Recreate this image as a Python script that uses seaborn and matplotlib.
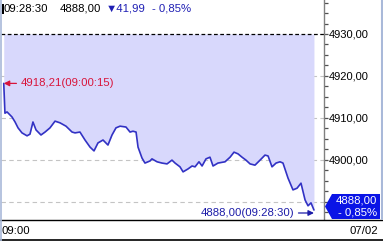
import numpy as np
import pandas as pd
import seaborn as sns
import matplotlib
matplotlib.use("Agg")
import matplotlib.pyplot as plt
from matplotlib.patches import Polygon, Rectangle
from matplotlib.lines import Line2D
from matplotlib.ticker import MultipleLocator, FuncFormatter
import matplotlib.transforms as mtransforms

# ---- data (minutes after 09:00, price) ----
minutes = [0.25, 0.36, 0.55, 1.00, 1.28, 1.55, 1.91, 2.37, 2.64, 2.91,
           3.19, 3.64, 4.01, 4.46, 4.92, 5.37, 5.92, 6.47, 6.74, 7.19,
           7.65, 8.11, 8.47, 8.83, 9.29, 9.74, 10.11, 10.47, 10.84, 11.38,
           11.75, 12.02, 12.30, 12.48, 12.84, 13.11, 13.57, 13.75, 14.21, 14.66,
           15.12, 15.57, 15.85, 16.30, 16.58, 17.03, 17.40, 17.67, 18.03, 18.31,
           18.67, 19.03, 19.31, 19.76, 20.40, 20.86, 21.22, 21.58, 21.95, 22.31,
           22.68, 23.13, 23.59, 24.04, 24.32, 24.68, 25.05, 25.41, 25.68, 26.14,
           26.59, 26.96, 27.32, 27.69, 27.96, 28.23, 28.50]
prices = [4918.21, 4911.1, 4911.4, 4910.2, 4909.0, 4907.6, 4906.4, 4905.7, 4906.1, 4909.0,
          4907.1, 4905.9, 4906.6, 4907.6, 4909.2, 4908.8, 4908.0, 4906.6, 4906.4, 4906.6,
          4904.7, 4903.0, 4902.1, 4904.0, 4904.7, 4903.5, 4905.9, 4907.6, 4908.0, 4907.8,
          4906.6, 4906.8, 4906.6, 4903.0, 4900.4, 4899.2, 4899.7, 4900.2, 4899.5, 4899.2,
          4899.0, 4899.9, 4899.2, 4898.3, 4897.1, 4897.8, 4898.5, 4898.3, 4899.5, 4898.5,
          4900.2, 4900.6, 4898.5, 4899.2, 4899.5, 4900.6, 4901.8, 4901.4, 4900.6, 4899.9,
          4899.0, 4898.7, 4899.9, 4901.1, 4900.9, 4898.3, 4899.2, 4899.5, 4899.2, 4895.6,
          4892.8, 4893.2, 4894.4, 4890.4, 4889.0, 4889.7, 4888.00]
prev_close = 4929.99
y_ticks = [4900, 4910, 4920, 4930]
grid_levels = [4890, 4900, 4910, 4920]
header_time = "09:28:30"
header_price = "4888,00"
header_change = "\u25bc41,99"
header_pct = "- 0,85%"
high_label = "4918,21(09:00:15)"
last_label = "4888,00(09:28:30)"
x_start_label = "09:00"
date_label = "07/02"

df = pd.DataFrame({"t": minutes, "price": prices})

sns.set_theme(style="white")
plt.rcParams['font.family'] = ['Liberation Sans', 'DejaVu Sans']

W, H = 383, 241
fig = plt.figure(figsize=(W / 100, H / 100), dpi=100)
fig.patch.set_facecolor("white")
ax = fig.add_axes([1 / W, 22 / H, 322.5 / W, 219 / H])
ax.set_facecolor("white")

ax.set_xlim(0, 29.37)
ax.set_ylim(4885.85, 4938.11)

ax.fill_between(df["t"], df["price"], prev_close, color="#d8d8fc", lw=0, zorder=1)
for g in grid_levels:
    ax.axhline(g, color="#c4c4c4", linestyle=(0, (4, 3)), linewidth=0.8, zorder=0.5)
ax.axhline(prev_close, color="black", linestyle=(0, (3, 2)), linewidth=0.9, zorder=2)
sns.lineplot(data=df, x="t", y="price", color="#3232c4", linewidth=1.2, ax=ax, zorder=3)

ax.set_xlabel("")
ax.set_ylabel("")
ax.set_xticks([])
for s in ["left", "top", "bottom"]:
    ax.spines[s].set_visible(False)
ax.spines["right"].set_color("#808080")
ax.spines["right"].set_linewidth(1.0)
ax.yaxis.tick_right()
ax.set_yticks(y_ticks)
ax.yaxis.set_minor_locator(MultipleLocator(2.5))
ax.yaxis.set_major_formatter(FuncFormatter(lambda v, _: f"{v:.2f}".replace(".", ",")))
ax.tick_params(axis="y", which="both", direction="out", length=3, width=0.9,
               color="#505050", labelsize=8, pad=1, labelcolor="black")

# high annotation
red = "#d8143a"
ax.annotate(high_label, xy=(df["t"].iloc[0], df["price"].iloc[0]),
            xytext=(12, 0), textcoords="offset points", color=red, fontsize=8.2,
            va="center", ha="left",
            arrowprops=dict(arrowstyle="-|>,head_length=0.4,head_width=0.2",
                            color=red, lw=0.9, shrinkA=0.5, shrinkB=0))

# last annotation
navy = "#1c1ca8"
off = mtransforms.offset_copy(ax.transData, fig=fig, y=-3, units="dots")
ax.annotate(last_label, xy=(df["t"].iloc[-1], df["price"].iloc[-1]), xycoords=off,
            xytext=(-14, 0), textcoords="offset points", color=navy, fontsize=8.2,
            va="center", ha="right",
            arrowprops=dict(arrowstyle="-|>,head_length=0.4,head_width=0.2",
                            color=navy, lw=0.9, shrinkA=0.5, shrinkB=0))

# header
hy = 1 - 8.5 / H
fig.add_artist(Rectangle((2 / W, 1 - 14 / H), 2 / W, 10 / H, transform=fig.transFigure,
                         color="black", lw=0))
fig.text(4 / W, hy, header_time, fontsize=8.2, va="center", ha="left", color="black")
fig.text(60 / W, hy, header_price, fontsize=8.2, va="center", ha="left", color="black")
fig.text(106 / W, hy, header_change, fontsize=8.2, va="center", ha="left", color="#1f1fb4")
fig.text(152 / W, hy, header_pct, fontsize=8.2, va="center", ha="left", color="#1f1fb4")

# bottom strip
fig.add_artist(Line2D([0, 1], [21.5 / H, 21.5 / H], transform=fig.transFigure, color="black", lw=1))
fig.add_artist(Line2D([0, 1], [0.6 / H, 0.6 / H], transform=fig.transFigure, color="black", lw=1.2))
fig.text(2 / W, 10.5 / H, x_start_label, fontsize=8.2, va="center", ha="left", color="black")
fig.text(378 / W, 10.5 / H, date_label, fontsize=8.2, va="center", ha="right", color="black")

# frame borders
border = "#a9b9d9"
fig.add_artist(Line2D([0.6 / W, 0.6 / W], [0, 1], transform=fig.transFigure, color=border, lw=1.2))
fig.add_artist(Line2D([381.5 / W, 381.5 / W], [22 / H, 1], transform=fig.transFigure, color=border, lw=1.5))

# current price box on the axis
fig.canvas.draw()
yd = ax.transData.transform((0, df["price"].iloc[-1]))[1]
yc = yd + 3.5
pts = [(325, yc), (332, yc + 12.5), (380, yc + 12.5), (380, yc - 12.5), (332, yc - 12.5)]
poly = Polygon([(x / W, y / H) for x, y in pts], closed=True, transform=fig.transFigure,
               facecolor="#0a14e6", edgecolor="none", zorder=10)
fig.add_artist(poly)
fig.text(377 / W, (yc + 6) / H, header_price, fontsize=8.2, va="center", ha="right",
         color="white", zorder=11)
fig.text(377 / W, (yc - 6) / H, header_pct, fontsize=8.2, va="center", ha="right",
         color="white", zorder=11)

fig.savefig("out.png", dpi=100)
